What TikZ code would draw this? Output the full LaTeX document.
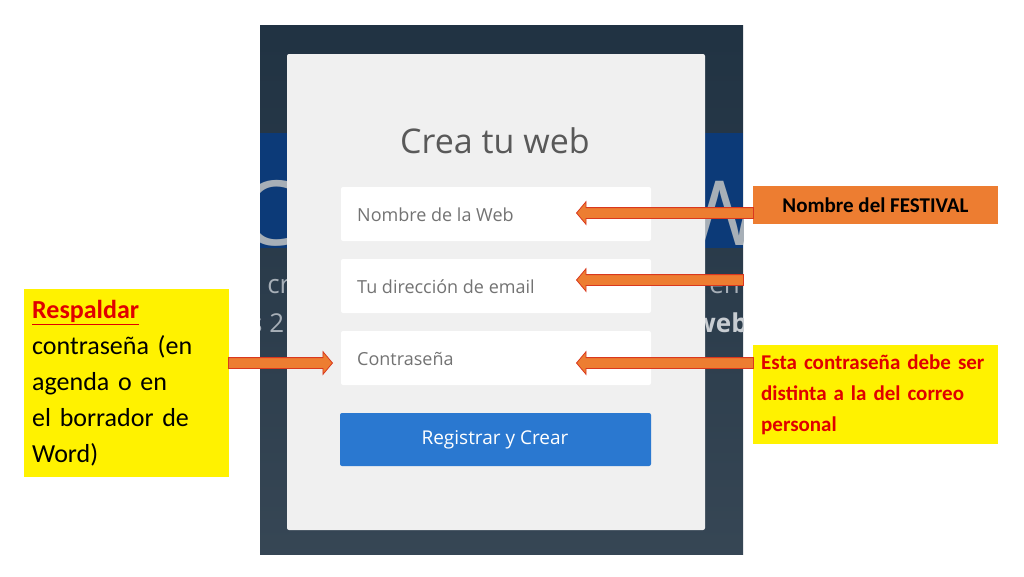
\documentclass[tikz,border=0pt]{standalone}
\usepackage{fontspec}
\setmainfont{Carlito}
\newfontfamily\uifont{Open Sans}
\usetikzlibrary{shapes.arrows}
\definecolor{bgdark}{HTML}{24384A}
\definecolor{bgband}{HTML}{0C3A78}
\definecolor{card}{HTML}{F0F0F0}
\definecolor{btn}{HTML}{2A78D0}
\definecolor{arrfill}{HTML}{ED7D31}
\definecolor{arrline}{HTML}{D9381E}
\definecolor{txtred}{HTML}{E00000}
\tikzset{
  x=1pt,y=-1pt,
  field/.style={fill=white,rounded corners=2pt,draw=none},
  fieldtxt/.style={anchor=west,font=\uifont\fontsize{18}{20}\selectfont,text=black!55,inner sep=0},
  barrow/.style={single arrow,fill=arrfill,draw=arrline,line width=0.8pt,inner xsep=0pt,inner ysep=5pt,
    minimum width=22pt,single arrow head extend=6pt,single arrow tip angle=100},
  ghost/.style={font=\uifont\fontsize{#1}{#1}\selectfont,text=white!60!bgdark,inner sep=0}
}
\begin{document}
\begin{tikzpicture}
\useasboundingbox (0,0) rectangle (1024,576);
\fill[white] (0,0) rectangle (1024,576);
% screenshot background
\begin{scope}
\clip (260,25) rectangle (743,554);
\shade[top color=bgdark!90!black,bottom color=bgdark!80!gray] (260,25) rectangle (743,554);
\fill[bgband] (260,133) rectangle (743,248);
\node[ghost=90,anchor=west] (g1) at (240,213) {CO};
\node[ghost=90,anchor=east] (g2) at (762,213) {W};
\node[ghost=26,anchor=west] (g3) at (248,287) {s cr};
\node[ghost=26,anchor=east] (g4) at (740,287) {en};
\node[ghost=26,anchor=west] (g5) at (250,323) {s 2};
\node[ghost=26,anchor=east,text=white!75!bgdark] (g6) at (748,323) {\bfseries web};
\end{scope}
% card
\fill[card,rounded corners=2pt] (287,54) rectangle (705,530);
\node[font=\uifont\fontsize{34}{36}\selectfont,text=black!65,inner sep=0] (title) at (495,141) {Crea tu web};
\fill[field] (341,187) rectangle (651,241);
\fill[field] (341,259) rectangle (651,313);
\fill[field] (341,331) rectangle (651,385);
\coordinate (f1) at (576,213);
\coordinate (f2) at (576,280);
\coordinate (f3) at (576,363);
\coordinate (f3l) at (333,363);
\node[fieldtxt] (t1) at (357,215) {Nombre de la Web};
\node[fieldtxt] (t2) at (357,287) {Tu dirección de email};
\node[fieldtxt] (t3) at (357,359) {Contraseña};
\fill[btn,rounded corners=2pt] (340,413) rectangle (651,466);
\node[font=\uifont\fontsize{19}{20}\selectfont,text=white,inner sep=0] (btn) at (495,440) {Registrar y Crear};
% annotation boxes
\node[fill=arrfill,minimum width=245pt,minimum height=38pt,inner sep=0,font=\bfseries\fontsize{21}{24}\selectfont] (nb) at (875.5,205) {Nombre del FESTIVAL};
\node[fill=yellow,minimum width=245pt,minimum height=99pt,inner sep=8pt,text width=229pt,align=left,text=txtred,font=\bfseries\fontsize{21}{31}\selectfont,anchor=north west] (cb) at (753,345) {Esta contraseña debe ser distinta a la del correo personal};
\node[fill=yellow,minimum width=205pt,minimum height=188pt,inner sep=8pt,text width=189pt,align=left,font=\fontsize{26}{36}\selectfont,anchor=north west] (lb) at (24,289) {\textcolor{txtred}{\bfseries\underline{Respaldar}}\\contraseña (en agenda o en el borrador de Word)};
% arrows
\coordinate (a1s) at (753,213);
\coordinate (a2s) at (743,280);
\coordinate (a3s) at (753,363);
\coordinate (a4s) at (229,363);
\node[barrow,shape border rotate=180,minimum height=177pt,anchor=tip] (ar1) at (f1) {};
\node[barrow,shape border rotate=180,minimum height=167pt,anchor=tip] (ar2) at (f2) {};
\node[barrow,shape border rotate=180,minimum height=177pt,anchor=tip] (ar3) at (f3) {};
\node[barrow,minimum height=104pt,anchor=tip] (ar4) at (f3l) {};
\end{tikzpicture}
\end{document}
